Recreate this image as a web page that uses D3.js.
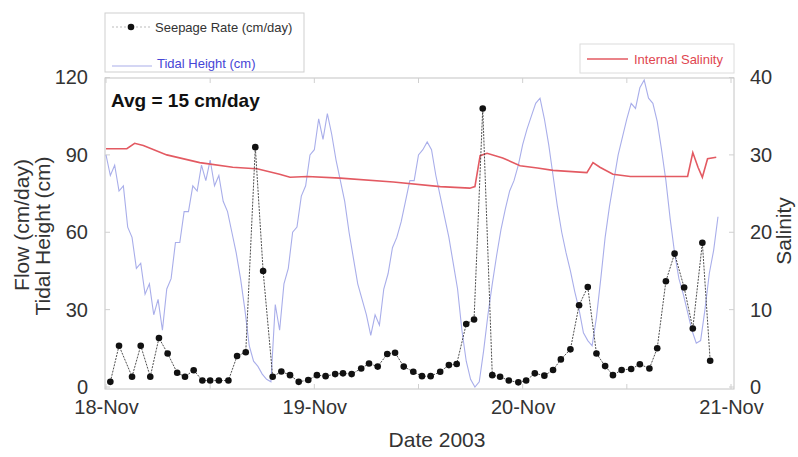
<!DOCTYPE html>
<html>
<head>
<meta charset="utf-8">
<script src="https://cdn.jsdelivr.net/npm/d3@7"></script>
<style>
  body { margin: 0; background: #fff; }
  text { font-family: "Liberation Sans", Arial, Helvetica, sans-serif; }
</style>
</head>
<body>
<svg id="chart" width="798" height="457"></svg>
<script>
// ---- data ----------------------------------------------------------
const startDate = new Date(2003, 10, 18, 0, 0);
const dayTicks = [new Date(2003, 10, 18), new Date(2003, 10, 19), new Date(2003, 10, 20), new Date(2003, 10, 21)];
const dayLabels = ["18-Nov", "19-Nov", "20-Nov", "21-Nov"];
const flowTicks = [0, 30, 60, 90, 120];
const salinityTicks = [0, 10, 20, 30, 40];

// seepage meter, hours after 18-Nov 00:00 and rate (cm/day)
const seepageHours = [0.5, 1.5, 3.0, 4.0, 5.1, 6.1, 7.1, 8.2, 9.1, 10.1, 11.1, 12.0, 13.0, 14.1, 15.1, 16.1,
  17.2, 18.1, 19.2, 20.2, 21.2, 22.2, 23.3, 24.3, 25.3, 26.4, 27.3, 28.3, 29.4, 30.3, 31.3, 32.4,
  33.3, 34.3, 35.4, 36.4, 37.4, 38.5, 39.5, 40.4, 41.5, 42.4, 43.4, 44.5, 45.4, 46.4, 47.5, 48.4,
  49.4, 50.5, 51.5, 52.4, 53.5, 54.5, 55.5, 56.5, 57.5, 58.4, 59.4, 60.5, 61.5, 62.6, 63.5, 64.5,
  65.5, 66.6, 67.6, 68.7, 69.6];
const seepageRate = [2, 16, 4, 16, 4, 19, 13, 5.5, 4, 6.5, 2.5, 2.5, 2.5, 2.5, 12, 13.5,
  93, 45, 4, 6, 4.6, 2, 2.7, 4.6, 4.2, 5, 5.3, 5, 7.2, 9.1, 7.9, 12.8,
  13.3, 7.9, 5.9, 4.2, 4.2, 5.9, 8.5, 8.9, 24.4, 26.2, 108, 4.6, 4, 2.5, 1.8, 2.5,
  5.3, 4.4, 6.6, 10.7, 14.6, 31.7, 38.8, 13, 8.1, 4.6, 6.6, 7, 8.8, 7.2, 15, 41,
  51.7, 38.6, 22.7, 55.9, 10.2];

// tide gauge, half-hourly from 18-Nov 00:00 (cm)
const tideStepHours = 0.5;
const tideHeight = [90, 82, 86, 76, 78, 62, 58, 46, 48, 36, 40, 28, 34, 22, 38, 42,
  56, 56, 68, 68, 78, 76, 86, 80, 88, 78, 82, 72, 68, 60, 52, 42,
  30, 16, 10, 8, 5, 3, 2, 32, 22, 40, 46, 60, 62, 74, 78, 90,
  92, 104, 96, 106, 98, 88, 80, 72, 60, 50, 40, 34, 28, 20, 28, 24,
  38, 44, 54, 58, 64, 72, 80, 80, 90, 92, 95, 92, 82, 74, 66, 58,
  48, 38, 22, 10, 3, 0, 2, 14, 28, 40, 51, 61, 69, 76, 80, 86,
  94, 100, 105, 110, 112, 104, 94, 82, 70, 60, 52, 45, 37, 30, 21, 18,
  16, 27, 42, 58, 70, 80, 90, 97, 104, 110, 108, 116, 119, 112, 110, 103,
  92, 80, 65, 52, 42, 36, 29, 22, 17, 18, 30, 44, 53, 66];

// internal salinity logger, hours after 18-Nov 00:00
const salinityHours = [0.0, 2.4, 3.3, 4.3, 7.0, 10.8, 14.6, 17.4, 20.0, 21.2, 23.2, 27.0, 33.1, 38.5,
  41.9, 42.5, 43.1, 43.9, 45.7, 47.7, 49.7, 51.5, 55.4, 56.1, 56.9, 58.4, 60.4, 64.2, 67.0,
  67.6, 68.2, 68.7, 69.3, 70.3];
const salinityValues = [30.8, 30.8, 31.5, 31.2, 30.0, 29.0, 28.4, 28.2, 27.5, 27.1, 27.2, 27.0, 26.5, 25.9,
  25.7, 25.9, 29.9, 30.2, 29.6, 28.6, 28.3, 28.0, 27.7, 29.0, 28.4, 27.5, 27.2, 27.2, 27.2,
  30.3, 28.4, 27.1, 29.5, 29.7];

// ---- layout ----------------------------------------------------------
const svg = d3.select("#chart");
const frame = { left: 105, right: 734, top: 78, bottom: 389 };
const atHour = h => new Date(+startDate + h * 3600e3);

const x = d3.scaleTime().domain([dayTicks[0], dayTicks[3]]).range([106, 731]);
const yFlow = d3.scaleLinear().domain([0, 120]).range([387, 77.5]);
const ySal = d3.scaleLinear().domain([0, 40]).range([387, 77.5]);

const tickColor = "#333";
const tideColor = "#a9aeea";
const salColor = "#e35a62";

// plot frame
svg.append("rect")
  .attr("x", frame.left).attr("y", frame.top)
  .attr("width", frame.right - frame.left).attr("height", frame.bottom - frame.top)
  .attr("fill", "none").attr("stroke", "#c4c4c4").attr("stroke-width", 1);

// faint inner ticks
const halfDays = d3.timeHour.every(12).range(dayTicks[0], new Date(2003, 10, 21, 1));
svg.append("g").selectAll("line").data(halfDays).join("line")
  .attr("x1", d => x(d)).attr("x2", d => x(d))
  .attr("y1", frame.top).attr("y2", frame.top + 5)
  .attr("stroke", "#d0d0d0");
svg.append("g").selectAll("line").data(halfDays).join("line")
  .attr("x1", d => x(d)).attr("x2", d => x(d))
  .attr("y1", frame.bottom).attr("y2", frame.bottom - 5)
  .attr("stroke", "#d0d0d0");
svg.append("g").selectAll("line").data(flowTicks).join("line")
  .attr("x1", frame.left).attr("x2", frame.left + 5)
  .attr("y1", d => yFlow(d)).attr("y2", d => yFlow(d))
  .attr("stroke", "#d0d0d0");
svg.append("g").selectAll("line").data(salinityTicks).join("line")
  .attr("x1", frame.right).attr("x2", frame.right - 5)
  .attr("y1", d => ySal(d)).attr("y2", d => ySal(d))
  .attr("stroke", "#d0d0d0");

// axes
const xAxis = svg.append("g")
  .attr("transform", `translate(0,${frame.bottom})`)
  .call(d3.axisBottom(x).tickValues(dayTicks).tickFormat((d, i) => dayLabels[i]).tickSize(0).tickPadding(11));
const leftAxis = svg.append("g")
  .attr("transform", `translate(${frame.left},0)`)
  .call(d3.axisLeft(yFlow).tickValues(flowTicks).tickSize(0).tickPadding(17));
const rightAxis = svg.append("g")
  .attr("transform", `translate(${frame.right},0)`)
  .call(d3.axisRight(ySal).tickValues(salinityTicks).tickSize(0).tickPadding(16));
[xAxis, leftAxis, rightAxis].forEach(g => {
  g.select(".domain").remove();
  g.selectAll("text").attr("font-size", 20).attr("fill", tickColor)
    .attr("font-family", "'Liberation Sans', Arial, sans-serif");
});

// tidal height
const tideLine = d3.line()
  .x((d, i) => x(atHour(i * tideStepHours)))
  .y(d => yFlow(d));
svg.append("path").datum(tideHeight)
  .attr("d", tideLine)
  .attr("fill", "none").attr("stroke", tideColor).attr("stroke-width", 1.1);

// internal salinity
const salLine = d3.line()
  .x((d, i) => x(atHour(salinityHours[i])))
  .y(d => ySal(d));
svg.append("path").datum(salinityValues)
  .attr("d", salLine)
  .attr("fill", "none").attr("stroke", salColor).attr("stroke-width", 1.6);

// seepage rate
const seepLine = d3.line()
  .x((d, i) => x(atHour(seepageHours[i])))
  .y(d => yFlow(d));
svg.append("path").datum(seepageRate)
  .attr("d", seepLine)
  .attr("fill", "none").attr("stroke", "#3a3a3a").attr("stroke-width", 0.9)
  .attr("stroke-dasharray", "2,1.2");
svg.append("g").selectAll("circle").data(seepageRate).join("circle")
  .attr("cx", (d, i) => x(atHour(seepageHours[i])))
  .attr("cy", d => yFlow(d))
  .attr("r", 3.3)
  .attr("fill", "#111");

// average annotation
svg.append("text").attr("x", 111).attr("y", 107)
  .attr("font-size", 19).attr("font-weight", "bold").attr("fill", "#111")
  .text("Avg = 15 cm/day");

// axis titles
svg.append("text").attr("transform", "translate(22,225) rotate(-90)")
  .attr("text-anchor", "middle").attr("dy", "0.35em")
  .attr("font-size", 21).attr("fill", tickColor).text("Flow (cm/day)");
svg.append("text").attr("transform", "translate(43,236) rotate(-90)")
  .attr("text-anchor", "middle").attr("dy", "0.35em")
  .attr("font-size", 21).attr("fill", tickColor).text("Tidal Height (cm)");
svg.append("text").attr("transform", "translate(784,231) rotate(-90)")
  .attr("text-anchor", "middle").attr("dy", "0.35em")
  .attr("font-size", 21).attr("fill", tickColor).text("Salinity");
svg.append("text").attr("x", 437).attr("y", 447)
  .attr("text-anchor", "middle")
  .attr("font-size", 21).attr("fill", tickColor).text("Date 2003");

// legend: seepage & tide
const leg1 = svg.append("g");
leg1.append("rect").attr("x", 105).attr("y", 13).attr("width", 199).attr("height", 59)
  .attr("fill", "#fff").attr("stroke", "#cfcfcf");
leg1.append("line").attr("x1", 112).attr("x2", 150).attr("y1", 27).attr("y2", 27)
  .attr("stroke", "#aaa").attr("stroke-width", 0.8).attr("stroke-dasharray", "2,2");
leg1.append("circle").attr("cx", 131).attr("cy", 27).attr("r", 3.3).attr("fill", "#111");
leg1.append("text").attr("x", 155).attr("y", 31.5).attr("font-size", 13).attr("fill", "#333")
  .text("Seepage Rate (cm/day)");
leg1.append("line").attr("x1", 112).attr("x2", 152).attr("y1", 66).attr("y2", 66)
  .attr("stroke", tideColor).attr("stroke-width", 1.1);
leg1.append("text").attr("x", 157).attr("y", 67.5).attr("font-size", 13).attr("fill", "#4646d6")
  .text("Tidal Height (cm)");

// legend: salinity
const leg2 = svg.append("g");
leg2.append("rect").attr("x", 580).attr("y", 44).attr("width", 154).attr("height", 29)
  .attr("fill", "#fff").attr("stroke", "#dcdcdc");
leg2.append("line").attr("x1", 587).attr("x2", 628).attr("y1", 59).attr("y2", 59)
  .attr("stroke", salColor).attr("stroke-width", 1.4);
leg2.append("text").attr("x", 634).attr("y", 63.5).attr("font-size", 13).attr("fill", "#e04650")
  .text("Internal Salinity");
</script>
</body>
</html>
